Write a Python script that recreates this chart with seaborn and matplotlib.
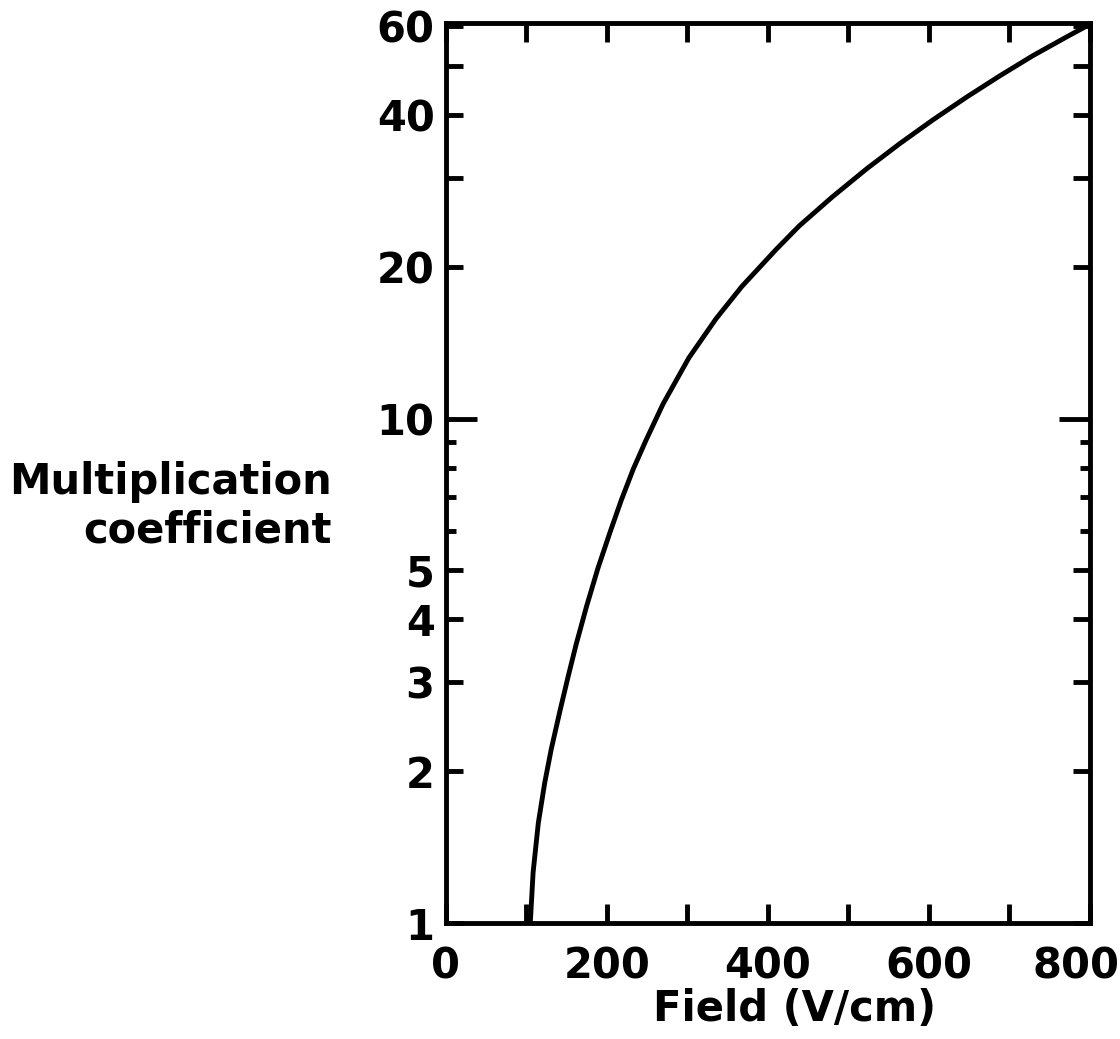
import numpy as np
import pandas as pd
import matplotlib
matplotlib.use("Agg")
import matplotlib.pyplot as plt
import matplotlib.transforms as mtransforms
import seaborn as sns
from matplotlib.ticker import FixedLocator, FixedFormatter, NullFormatter

# values
field = [105, 108.5, 115, 123, 131, 142, 152, 162, 175, 189, 204, 218, 233, 249,
         270, 302, 336, 368, 411, 439, 480, 523, 564, 605, 647, 688, 729, 771, 800]
mult = [1.0, 1.26, 1.58, 1.90, 2.21, 2.64, 3.08, 3.57, 4.25, 5.05, 5.95, 6.89, 7.95, 9.08,
        10.7, 13.2, 15.8, 18.3, 21.7, 24.1, 27.5, 31.3, 35.1, 39.1, 43.4, 47.8, 52.4, 57.1, 60.5]

y_ticks = [1, 2, 3, 4, 5, 10, 20, 30, 40, 50, 60]
y_labels = ["1", "2", "3", "4", "5", "10", "20", "", "40", "", "60"]
y_minor = [6, 7, 8, 9]
x_ticks = [0, 100, 200, 300, 400, 500, 600, 700, 800]
x_labels = ["0", "", "200", "", "400", "", "600", "", "800"]

sns.set_theme(style="ticks")
plt.rcParams["font.family"] = ["DejaVu Sans"]
plt.rcParams["font.weight"] = "bold"

fig = plt.figure(figsize=(11.2, 10.39), dpi=100)
ax = fig.add_axes([0.398, 0.1116, 0.575, 0.8667])

df = pd.DataFrame({"field": field, "mult": mult})
sns.lineplot(data=df, x="field", y="mult", color="black", linewidth=3.5, ax=ax)
for ln in ax.get_lines():
    ln.set_solid_joinstyle("round")
    ln.set_solid_capstyle("round")

ax.set_yscale("log")
ax.set_xlim(0, 800)
ax.set_ylim(1, 61)

ax.yaxis.set_major_locator(FixedLocator(y_ticks))
ax.yaxis.set_major_formatter(FixedFormatter(y_labels))
ax.yaxis.set_minor_locator(FixedLocator(y_minor))
ax.yaxis.set_minor_formatter(NullFormatter())
ax.set_xticks(x_ticks)
ax.set_xticklabels(x_labels)

for s in ax.spines.values():
    s.set_linewidth(3.5)
    s.set_color("black")

ax.tick_params(axis="both", which="both", direction="in", width=3.5, color="black",
               labelsize=30, labelcolor="black", top=True, right=True)
ax.tick_params(axis="x", which="major", length=14, pad=16)
ax.tick_params(axis="y", which="major", length=12, pad=8)
ax.tick_params(axis="y", which="minor", length=7)

# the 10 tick is drawn longer on both sides
t10 = ax.yaxis.get_major_ticks()[y_ticks.index(10)]
t10.tick1line.set_markersize(22)
t10.tick2line.set_markersize(22)

# last x label sits a little left of the corner, as in the scan
lab800 = ax.xaxis.get_major_ticks()[-1].label1
lab800.set_transform(lab800.get_transform() +
                     mtransforms.ScaledTranslation(-0.14, 0, fig.dpi_scale_trans))

ax.set_xlabel("Field (V/cm)", fontsize=30, fontweight="bold", color="black", va="top")
ax.xaxis.set_label_coords(0.541, -0.072)
ax.set_ylabel("Multiplication\ncoefficient", rotation=0, fontsize=30, fontweight="bold",
              color="black", ha="center", va="center", multialignment="right")
ax.yaxis.set_label_coords(-0.428, 0.463)

fig.savefig("out.png", dpi=100)
